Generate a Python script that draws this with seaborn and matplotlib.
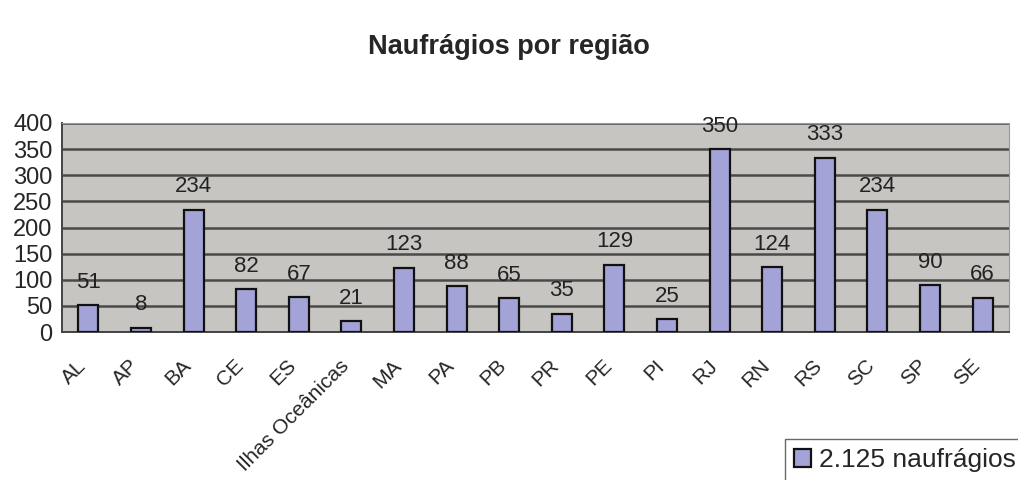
import numpy as np
import pandas as pd
import matplotlib.pyplot as plt
import matplotlib.transforms as mtransforms
import seaborn as sns

regioes = ["AL", "AP", "BA", "CE", "ES", "Ilhas Oceânicas", "MA", "PA", "PB",
           "PR", "PE", "PI", "RJ", "RN", "RS", "SC", "SP", "SE"]
naufragios = [51, 8, 234, 82, 67, 21, 123, 88, 65, 35, 129, 25, 350, 124, 333, 234, 90, 66]
legenda = "2.125 naufrágios"

df = pd.DataFrame({"regiao": regioes, "naufragios": naufragios})

sns.set_style("white")
plt.rcParams['font.family'] = ['Liberation Sans', 'DejaVu Sans']

fig = plt.figure(figsize=(10.18, 4.8), dpi=100)
ax = fig.add_axes([0.061, 0.308, 0.93, 0.436])
ax.set_facecolor("#c6c5c2")

sns.barplot(data=df, x="regiao", y="naufragios", color="#a3a3d8", saturation=1,
            width=0.38, edgecolor="#111111", linewidth=1.6, ax=ax, zorder=3)

ax.set_ylim(0, 400)
ax.set_xlim(-0.5, len(regioes) - 0.5)
ax.set_yticks(range(0, 401, 50))
ax.yaxis.grid(True, color="#4a4a4a", linewidth=1.8, zorder=1)
ax.set_axisbelow(True)

# valores acima das barras
for i, v in enumerate(naufragios):
    ax.annotate(str(v), (i, v), xytext=(0, 9), textcoords="offset points",
                ha="center", va="bottom", fontsize=16, color="#222222")

ax.set_xlabel("")
ax.set_ylabel("")
ax.set_xticks(np.arange(len(regioes)))
ax.set_xticklabels(regioes, rotation=45, ha="right", rotation_mode="anchor", fontsize=15)
ax.tick_params(axis="x", length=0, pad=22)
desloc = mtransforms.ScaledTranslation(-4 / 72, 0, fig.dpi_scale_trans)
for lab in ax.get_xticklabels():
    lab.set_verticalalignment("center")
    lab.set_transform(lab.get_transform() + desloc)
ax.set_xticks(np.arange(-0.5, len(regioes)), minor=True)
ax.tick_params(axis="x", which="minor", length=5, width=1.2, color="#444444")
ax.tick_params(axis="y", labelsize=17, length=5, width=1.2, color="#444444", pad=2)

for s in ["top", "right"]:
    ax.spines[s].set_color("#9a9a9a")
for s in ["left", "bottom"]:
    ax.spines[s].set_color("#444444")
    ax.spines[s].set_linewidth(1.4)

fig.suptitle("Naufrágios por região", fontsize=19.5, fontweight="bold", x=0.5, y=0.93)

leg = fig.legend([ax.patches[0]], [legenda], loc="lower right",
                 bbox_to_anchor=(1.02, -0.03), fontsize=19, frameon=True,
                 fancybox=False, edgecolor="#444444", handlelength=0.65,
                 handleheight=0.65, handletextpad=0.3, borderpad=0.35)

fig.savefig("out.png", dpi=100)
